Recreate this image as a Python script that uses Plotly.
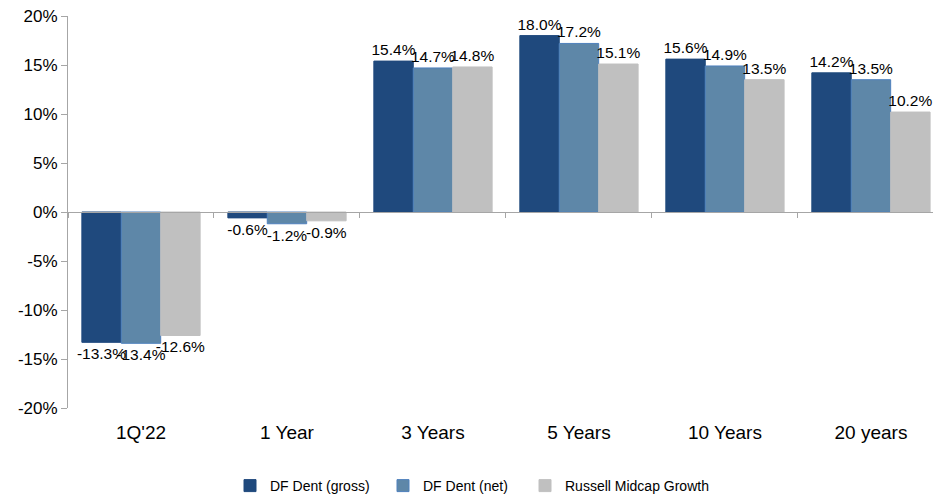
import plotly.graph_objects as go

categories = ["1Q'22", "1 Year", "3 Years", "5 Years", "10 Years", "20 years"]
gross = [-13.3, -0.6, 15.4, 18.0, 15.6, 14.2]
net = [-13.4, -1.2, 14.7, 17.2, 14.9, 13.5]
russell = [-12.6, -0.9, 14.8, 15.1, 13.5, 10.2]
series_names = ["DF Dent (gross)", "DF Dent (net)", "Russell Midcap Growth"]
y_ticks = [-20, -15, -10, -5, 0, 5, 10, 15, 20]
y_tick_labels = [f"{v}%" for v in y_ticks]

colors = ["#1F497D", "#5E87A8", "#C0C0C0"]
lines = ["#1F497D", "#4F81BD", "#C0C0C0"]
legend_ids = ["legend", "legend2", "legend3"]
legend_left_px = [230, 383, 525]
label_font = dict(family="Liberation Sans, Arial", size=15.5, color="#000000")

fig = go.Figure()
for name, vals, c, lc, lg in zip(series_names, [gross, net, russell], colors, lines, legend_ids):
    fig.add_trace(go.Bar(
        x=categories, y=vals, name=name, legend=lg,
        marker=dict(color=c, line=dict(color=lc, width=1)),
        text=[f"{v:.1f}%" for v in vals],
        textposition="outside", constraintext="none", cliponaxis=False,
        textfont=label_font,
    ))

# helper trace for the zero-line axis
fig.add_trace(go.Scatter(x=categories, y=[None] * len(categories), xaxis="x2",
                         showlegend=False, hoverinfo="skip", mode="markers"))

axis_gray = "#A6A6A6"
plot_left, plot_right, plot_top, plot_bottom = 68, 933, 16, 408
legends = {}
for lg, px in zip(legend_ids, legend_left_px):
    legends[lg] = dict(orientation="h",
                       x=(px - plot_left) / (plot_right - plot_left), xanchor="left",
                       y=(plot_bottom - 470) / (plot_bottom - plot_top), yanchor="top",
                       font=dict(size=14, family="Liberation Sans, Arial"),
                       itemwidth=30, bgcolor="rgba(0,0,0,0)")

fig.update_layout(
    width=933, height=495,
    margin=dict(l=plot_left, r=933 - plot_right, t=plot_top, b=495 - plot_bottom, autoexpand=False),
    paper_bgcolor="white", plot_bgcolor="white",
    barmode="group", bargap=0.19, bargroupgap=0,
    font=dict(family="Liberation Sans, Arial", color="#000000"),
    xaxis=dict(type="category", range=[-0.5, 5.425], showline=False, ticks="",
               showgrid=False, zeroline=False,
               tickfont=dict(size=19, family="Liberation Sans, Arial"), ticklabelstandoff=11),
    xaxis2=dict(type="category", overlaying="x", matches="x", anchor="free", position=0.5,
                side="bottom", showline=True, linecolor=axis_gray, linewidth=1,
                ticks="outside", ticklen=5, tickcolor=axis_gray, tickson="boundaries",
                showticklabels=False, showgrid=False, zeroline=False),
    yaxis=dict(range=[-20, 20], tickvals=y_ticks, ticktext=y_tick_labels,
               showline=True, linecolor=axis_gray, linewidth=1,
               ticks="outside", ticklen=6, tickcolor=axis_gray,
               showgrid=False, zeroline=False,
               tickfont=dict(size=17, family="Liberation Sans, Arial")),
    **legends,
)

fig.write_html("out.html", config={"displayModeBar": False},
               post_script="document.body.style.margin='0';document.body.style.overflow='hidden';")
